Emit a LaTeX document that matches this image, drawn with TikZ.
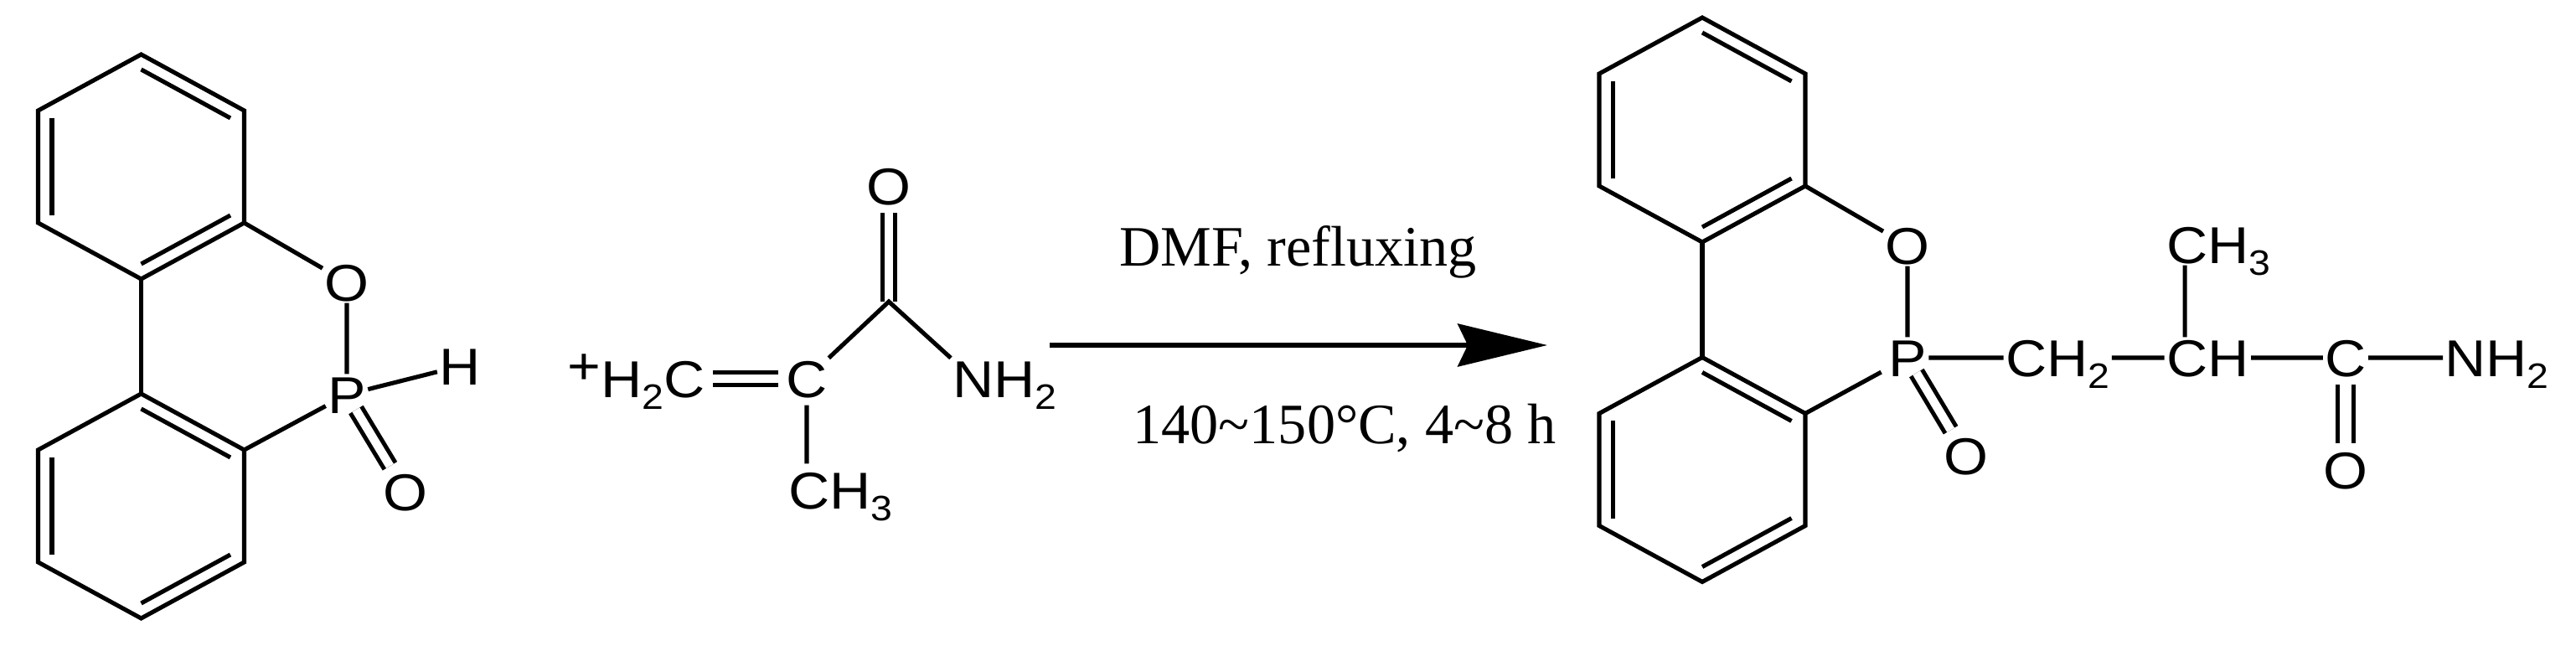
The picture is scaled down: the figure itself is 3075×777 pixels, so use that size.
\documentclass[tikz,border=0pt]{standalone}
\usepackage{fontspec}
\usepackage{tikz}
\usetikzlibrary{arrows.meta,calc}
\newfontfamily\chemfont[FakeStretch=1.1]{Liberation Sans}
\newfontfamily\condfont[Ligatures=NoCommon]{Liberation Serif}
\newcommand{\subs}[1]{\raisebox{-4pt}{\fontsize{12}{12}\selectfont #1}}

\begin{document}
\begin{tikzpicture}[x=0.01cm,y=-0.01cm,line width=1.45pt]
\tikzstyle{atom}=[inner sep=0pt,text height=12.6pt,text depth=0pt,
                  font=\chemfont\fontsize{17.6}{20}\selectfont]
\tikzstyle{cond}=[inner sep=0pt,anchor=base west,
                  font=\condfont\fontsize{19.4}{22}\selectfont]
\tikzstyle{bond}=[shorten <=2pt,shorten >=2pt]
\tikzstyle{link}=[shorten >=2pt]
\tikzstyle{dbl}=[bond,double,double distance=2.9pt]
\tikzstyle{pdbl}=[dbl,shorten <=-2.2pt]
\useasboundingbox (0,0) rectangle (3075,777);

\foreach \rn/\cx/\cy in {RA/168.5/199,RB/168.5/604,RC/2032/155,RD/2032/560.5} {
  \coordinate (\rn) at (\cx,\cy);
  \coordinate (\rn1) at ($(\rn)+(0,-134)$);
  \coordinate (\rn2) at ($(\rn)+(123,-67)$);
  \coordinate (\rn3) at ($(\rn)+(123,67)$);
  \coordinate (\rn4) at ($(\rn)+(0,134)$);
  \coordinate (\rn5) at ($(\rn)+(-123,67)$);
  \coordinate (\rn6) at ($(\rn)+(-123,-67)$);
  \draw (\rn1) -- (\rn2) -- (\rn3) -- (\rn4) -- (\rn5) -- (\rn6) -- cycle;
  \draw ($(\rn)!0.866!(\rn1)$) -- ($(\rn)!0.866!(\rn2)$);
  \draw ($(\rn)!0.866!(\rn3)$) -- ($(\rn)!0.866!(\rn4)$);
  \draw ($(\rn)!0.866!(\rn5)$) -- ($(\rn)!0.866!(\rn6)$);
}

\node[atom] (OA) at (414,337) {O};
\node[atom] (PA) at (414,471) {P};
\node[atom] (OB) at (484,587) {O};
\node[atom] (HA) at (549,437) {H};

\node[atom,anchor=east] (H2CM) at (844,452) {\raisebox{4.5pt}{+}H\subs{2}C};
\node[atom] (CM) at (963,452) {C};
\node[atom,anchor=west] (CH3M) at (938.5,585) {CH\subs{3}};
\coordinate (CJ) at (1061,360);
\node[atom] (OM) at (1061,222) {O};
\node[atom,anchor=west] (NH2M) at (1135,452) {NH\subs{2}};
\coordinate (CH3Mt) at ($(CH3M.north west)+(24.5,0)$);

\coordinate (ARRS) at (1253,412);
\coordinate (ARRE) at (1847,412);
\node[cond] (DMF) at (1334,318) {DMF, refluxing};
\node[cond] (TEMP) at (1350,530) {140\textasciitilde150°C, 4\textasciitilde8 h};

\node[atom] (OR) at (2277,293) {O};
\node[atom] (PR) at (2277,427) {P};
\node[atom] (OS) at (2347,544) {O};
\node[atom,anchor=west] (CH2R) at (2391.6,427) {CH\subs{2}};
\node[atom,anchor=west] (CHR) at (2583.6,427) {CH};
\node[atom,anchor=west] (CH3R) at (2583.6,292) {CH\subs{3}};
\node[atom] (CR) at (2800,427) {C};
\node[atom] (OT) at (2800,561) {O};
\node[atom,anchor=west] (NH2R) at (2916,427) {NH\subs{2}};
\coordinate (CHRt) at ($(CHR.north west)+(24.5,0)$);
\coordinate (CH3Rb) at ($(CH3R.south west)+(24.5,0)$);

\path[draw] (RA4) -- (RB1) (RC4) -- (RD1);
\path[draw,link] (RA3) -- (OA) (RB2) -- (PA)
      (RC3) -- (OR) (RD2) -- (PR);
\path[draw,bond] (OA) -- (PA) (PA) -- (HA)
      (OR) -- (PR) (PR) -- (CH2R) (CH2R) -- (CHR)
      (CH3Rb) -- (CHRt) (CHR) -- (CR) (CR) -- (NH2R)
      (CM) -- (CH3Mt);
\draw[pdbl] (PA) -- (OB);
\draw[pdbl] (PR) -- (OS);
\draw[dbl] (H2CM) -- (CM);
\draw[dbl,shorten <=0pt] (CJ) -- (OM);
\draw[dbl,double distance=3.8pt] (CR) -- (OT);
\draw (CM) -- (CJ) -- (NH2M.north west);

\draw[line width=1.6pt,-{Stealth[length=30.4pt,width=14.5pt,inset=3.4pt]}] (ARRS) -- (ARRE);
\end{tikzpicture}
\end{document}
